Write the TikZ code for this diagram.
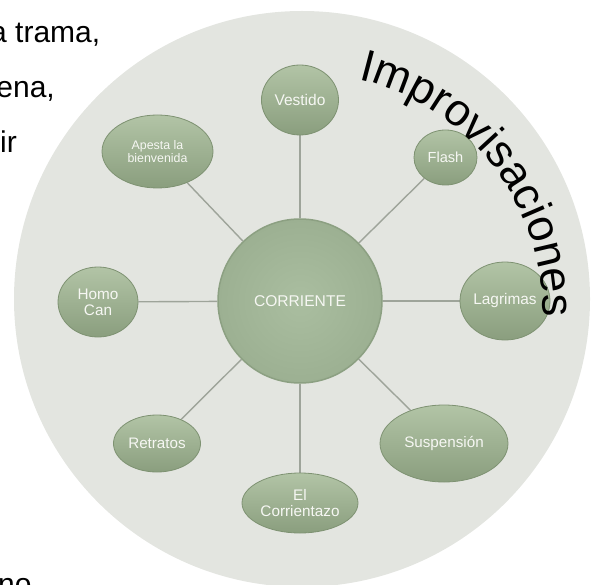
\documentclass[tikz,border=0pt]{standalone}
\usepackage{fontspec}
\setmainfont{Liberation Sans}
\usetikzlibrary{shapes.geometric,backgrounds,decorations.text}

\definecolor{disk}{RGB}{227,229,224}
\definecolor{sageTop}{RGB}{178,196,166}
\definecolor{sageBot}{RGB}{138,158,126}
\definecolor{sageEdge}{RGB}{126,146,114}
\definecolor{hubIn}{RGB}{170,190,160}
\definecolor{hubOut}{RGB}{156,176,146}
\definecolor{hubEdge}{RGB}{140,160,130}
\definecolor{linkGrey}{RGB}{158,164,154}
\definecolor{labelWhite}{RGB}{246,247,243}

\newcommand{\fs}[2]{\fontsize{#1}{#2}\selectfont}

\begin{document}
\begin{tikzpicture}[x=1pt,y=-1pt,
  bubble/.style={ellipse, inner sep=0pt, align=center, text=labelWhite,
    draw=sageEdge, line width=0.8pt, top color=sageTop, bottom color=sageBot},
  hubstyle/.style={circle, inner sep=0pt, align=center, text=labelWhite,
    draw=hubEdge, line width=1.5pt, inner color=hubIn, outer color=hubOut},
  link/.style={draw=linkGrey, line width=1.4pt},
  side/.style={font=\fs{30}{30}, inner sep=0pt, text=black}
]
\useasboundingbox (0,0) rectangle (591,585);
\clip (0,0) rectangle (591,585);

% fragments of the surrounding page text
\node[side, anchor=base west] (t1) at (-10,43) {a trama,};
\node[side, anchor=base east] (t2) at (55,98) {ena,};
\node[side, anchor=base east] (t3) at (17,153) {ir};
\node[side, anchor=base west] (t4) at (-2,594) {no};

% hub and satellites
\node[hubstyle, minimum size=164pt, font=\fs{15.6}{17}] (hub) at (300,301) {CORRIENTE};
\node[bubble, minimum width=77pt, minimum height=70pt, font=\fs{15.5}{17}] (vest) at (300,100) {Vestido};
\node[bubble, minimum width=111pt, minimum height=73pt, font=\fs{12.4}{12.8}] (apes) at (157.5,151.5) {Apesta la\\bienvenida};
\node[bubble, minimum width=63pt, minimum height=55pt, font=\fs{14.6}{16}] (flash) at (445.5,157.5) {Flash};
\node[bubble, minimum width=90pt, minimum height=78pt, font=\fs{15.4}{17}] (lagr) at (505,301) {Lagrimas};
\node[bubble, minimum width=80pt, minimum height=70pt, font=\fs{15.3}{16}] (homo) at (98,302) {Homo\\Can};
\node[bubble, minimum width=87pt, minimum height=57pt, font=\fs{15.2}{17}] (retr) at (157,443.5) {Retratos};
\node[bubble, minimum width=116pt, minimum height=60pt, font=\fs{15.3}{16.5}] (corr) at (300,503) {El\\Corrientazo};
\node[bubble, minimum width=128pt, minimum height=77pt, font=\fs{15.2}{17}] (susp) at (444,443.5) {Suspensión};

% curved title, set on an arch of its own
\path[decorate, decoration={text along path, text align=left,
    text={|\fs{45}{45}|Improvisaciones}}]
  (358.2,79.5) arc[start angle=-76.8, end angle=10, radius=239];

\begin{scope}[on background layer]
  \fill[disk] (302,299) circle[radius=288];
  \foreach \n in {vest,apes,flash,lagr,homo,retr,corr,susp}
    \draw[link] (hub) -- (\n);
\end{scope}
\end{tikzpicture}
\end{document}
